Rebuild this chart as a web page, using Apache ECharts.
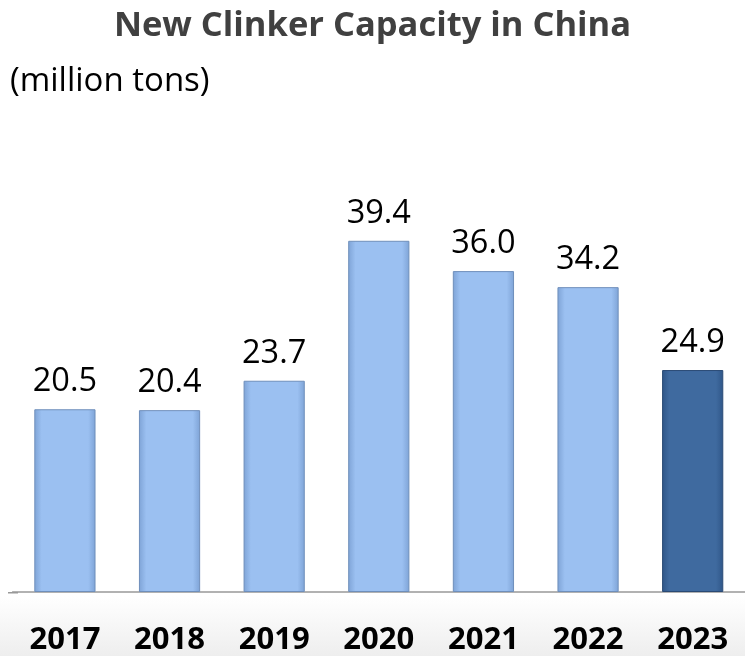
<!DOCTYPE html>
<html>
<head>
<meta charset="utf-8">
<script src="https://cdn.jsdelivr.net/npm/echarts@6/dist/echarts.min.js"></script>
<style>html,body{margin:0;padding:0;background:#fff;}#c{width:745px;height:656px;}</style>
</head>
<body>
<div id="c"></div>
<script>
const categories = ['2017', '2018', '2019', '2020', '2021', '2022', '2023'];
const values = [20.5, 20.4, 23.7, 39.4, 36.0, 34.2, 24.9];
const highlightIndex = 6;

const FONT = '"Open Sans", sans-serif';
const chart = echarts.init(document.getElementById('c'), null, {renderer: 'canvas'});

function barStyle(dark) {
  const edge = dark ? '#2f5688' : '#7ea3d6';
  const mid = dark ? '#3f6a9f' : '#9bc0f1';
  return {
    color: new echarts.graphic.LinearGradient(0, 0, 1, 0, [
      {offset: 0, color: edge},
      {offset: 0.12, color: mid},
      {offset: 0.88, color: mid},
      {offset: 1, color: edge}
    ]),
    borderColor: dark ? '#2a4a75' : '#6f8fbb',
    borderWidth: 1
  };
}

const data = values.map((v, i) => ({
  value: v,
  itemStyle: barStyle(i === highlightIndex)
}));

chart.setOption({
  animation: false,
  backgroundColor: '#ffffff',
  graphic: [{
    type: 'rect',
    left: 0, top: 596,
    shape: {width: 745, height: 60},
    style: {
      fill: new echarts.graphic.LinearGradient(0, 0, 0, 1, [
        {offset: 0, color: '#ffffff'},
        {offset: 1, color: '#eeeeee'}
      ])
    },
    z: -10
  }, {
    type: 'rect',
    left: 8, top: 592,
    shape: {width: 10, height: 1.5},
    style: {fill: '#999999'}
  }],
  title: [{
    text: 'New Clinker Capacity in China',
    left: 'center', top: 4,
    textStyle: {fontFamily: FONT, fontWeight: 'bold', fontSize: 34.5, color: '#404040'}
  }, {
    text: '(million tons)',
    left: 5, top: 60,
    textStyle: {fontFamily: FONT, fontWeight: 'normal', fontSize: 33, color: '#000'}
  }],
  grid: {left: 12.6, right: -8, top: 146.3, bottom: 63, containLabel: false},
  xAxis: {
    type: 'category',
    data: categories,
    axisLine: {show: true, lineStyle: {color: '#999999', width: 1.5}},
    axisTick: {show: false},
    axisLabel: {
      margin: 33, fontFamily: FONT, fontWeight: 'bold', fontSize: 31, color: '#000'
    }
  },
  yAxis: {
    type: 'value', min: 0, max: 50,
    show: false,
    splitLine: {show: false}
  },
  series: [{
    type: 'bar',
    data: data,
    barWidth: '58.5%',
    label: {
      show: true, position: 'top', distance: 11,
      fontFamily: FONT, fontSize: 32.5, color: '#000',
      formatter: p => p.value.toFixed(1)
    }
  }]
});
</script>
</body>
</html>
